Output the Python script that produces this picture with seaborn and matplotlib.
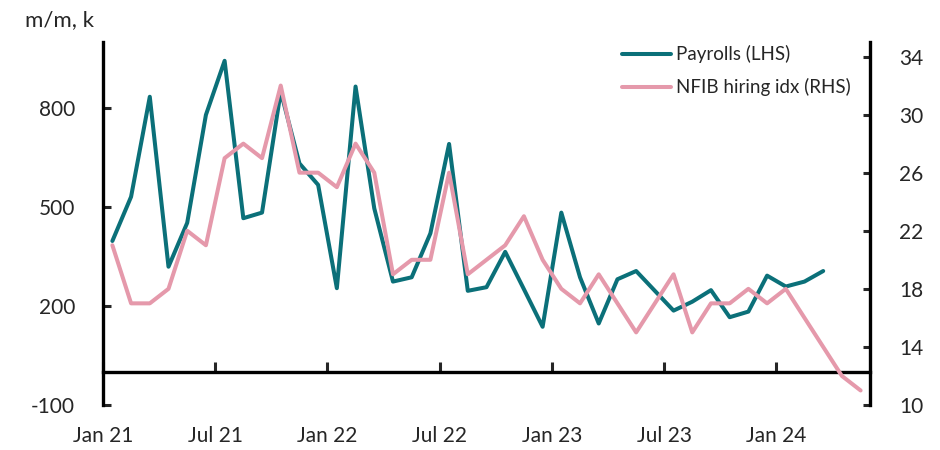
import pandas as pd
import seaborn as sns
import matplotlib.pyplot as plt

# monthly values, Jan 2021 onwards
payrolls = [397, 531, 834, 319, 452, 779, 943, 466, 483, 850, 632, 567,
            254, 865, 496, 274, 287, 420, 691, 246, 257, 364, 251, 137,
            483, 287, 147, 281, 306, 246, 186, 213, 248, 166, 183, 292,
            259, 274, 306]
nfib_hiring = [21, 17, 17, 18, 22, 21, 27, 28, 27, 32, 26, 26,
               25, 28, 26, 19, 20, 20, 26, 19, 20, 21, 23, 20,
               18, 17, 19, 17, 15, 17, 19, 15, 17, 17, 18, 17,
               18, 16, 14, 12, 11]
tick_labels = ['Jan 21', 'Jul 21', 'Jan 22', 'Jul 22', 'Jan 23', 'Jul 23', 'Jan 24']

teal = '#0B7079'
pink = '#E599AB'

pay = pd.DataFrame({'month': range(len(payrolls)), 'value': payrolls})
nfib = pd.DataFrame({'month': range(len(nfib_hiring)), 'value': nfib_hiring})

sns.set_style('white')
plt.rcParams['font.family'] = ['Lato', 'DejaVu Sans']
plt.rcParams['axes.unicode_minus'] = False

fig = plt.figure(figsize=(9.4, 4.5), dpi=100)
ax = fig.add_axes([0.1096, 0.1, 0.9255 - 0.1096, 0.8067])
ax2 = ax.twinx()

sns.lineplot(data=pay, x='month', y='value', ax=ax, color=teal, lw=2.9,
             label='Payrolls (LHS)', legend=False)
sns.lineplot(data=nfib, x='month', y='value', ax=ax2, color=pink, lw=2.9,
             label='NFIB hiring idx (RHS)', legend=False)

ax.set_xlim(-0.5, 40.5)
ax.set_ylim(-100, 1000)
ax2.set_ylim(10, 35)

ax.set_yticks([-100, 200, 500, 800])
ax2.set_yticks(range(10, 35, 4))
ax.set_xticks([i * 6 - 0.5 for i in range(len(tick_labels))])
ax.set_xticklabels(tick_labels)

for a in (ax, ax2):
    a.set_xlabel('')
    a.set_ylabel('')
    a.spines['top'].set_visible(False)
    for s in a.spines.values():
        s.set_linewidth(2.4)
        s.set_color('black')

ax.spines['right'].set_visible(False)
ax.spines['bottom'].set_position(('data', 0))
ax2.spines['left'].set_visible(False)
ax2.spines['bottom'].set_visible(False)

ax.tick_params(axis='x', direction='in', length=7, width=2.2, pad=39, labelsize=15, bottom=True)
ax.tick_params(axis='y', direction='in', length=6, width=2.2, pad=20, labelsize=15, left=True)
ax2.tick_params(axis='y', direction='in', length=5, width=2.2, pad=21, labelsize=15, right=True)

fig.text(0.027, 0.955, 'm/m, k', fontsize=16, va='center', ha='left')

handles = ax.get_lines()[:1] + ax2.get_lines()[:1]
fig.legend(handles, [h.get_label() for h in handles], loc='upper left',
           bbox_to_anchor=(0.662, 0.9), frameon=False, fontsize=13.5,
           handlelength=2.6, handletextpad=0.25, labelspacing=0.8,
           borderpad=0, borderaxespad=0)

fig.savefig('out.png', dpi=100)
